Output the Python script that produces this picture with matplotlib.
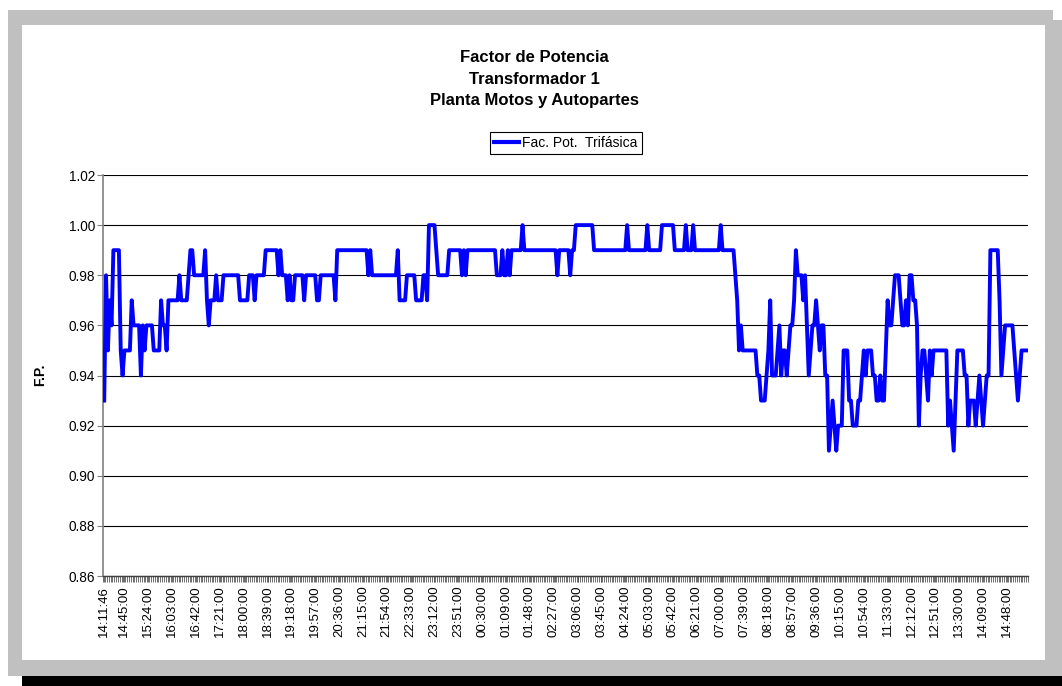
import matplotlib.pyplot as plt
import numpy as np
from matplotlib.patches import Rectangle
from matplotlib.lines import Line2D

plt.rcParams['font.family'] = ['Liberation Sans', 'DejaVu Sans']

# factor de potencia, (valor, numero de lecturas seguidas)
tramos = [
    (0.93, 1), (0.98, 1), (0.95, 1), (0.97, 1), (0.96, 1), (0.99, 4), (0.95, 1), (0.94, 1),
    (0.95, 4), (0.97, 1), (0.96, 4), (0.94, 1), (0.96, 1), (0.95, 1), (0.96, 4), (0.95, 4),
    (0.97, 1), (0.96, 2), (0.95, 1), (0.97, 6), (0.98, 1), (0.97, 4), (0.98, 1), (0.99, 2),
    (0.98, 6), (0.99, 1), (0.97, 1), (0.96, 1), (0.97, 3), (0.98, 1), (0.97, 3), (0.98, 9),
    (0.97, 5), (0.98, 3), (0.97, 1), (0.98, 5), (0.99, 7), (0.98, 1), (0.99, 1), (0.98, 3),
    (0.97, 1), (0.98, 1), (0.97, 2), (0.98, 5), (0.97, 1), (0.98, 6), (0.97, 2), (0.98, 8),
    (0.97, 1), (0.99, 17), (0.98, 1), (0.99, 1), (0.98, 14), (0.99, 1), (0.97, 4), (0.98, 5),
    (0.97, 4), (0.98, 2), (0.97, 1), (1.00, 4), (0.99, 1), (0.98, 6), (0.99, 7), (0.98, 1),
    (0.99, 1), (0.98, 1), (0.99, 16), (0.98, 3), (0.99, 1), (0.98, 2), (0.99, 1), (0.98, 1),
    (0.99, 6), (1.00, 1), (0.99, 18), (0.98, 1), (0.99, 6), (0.98, 1), (0.99, 2), (1.00, 10),
    (0.99, 18), (1.00, 1), (0.99, 10), (1.00, 1), (0.99, 7), (1.00, 7), (0.99, 6), (1.00, 1),
    (0.99, 3), (1.00, 1), (0.99, 14), (1.00, 1), (0.99, 7), (0.98, 1), (0.97, 1), (0.95, 1),
    (0.96, 1), (0.95, 8), (0.94, 2), (0.93, 3), (0.94, 1), (0.95, 1), (0.97, 1), (0.94, 3),
    (0.95, 1), (0.96, 1), (0.94, 1), (0.95, 2), (0.94, 1), (0.95, 1), (0.96, 2), (0.97, 1),
    (0.99, 1), (0.98, 3), (0.97, 1), (0.98, 1), (0.96, 1), (0.94, 1), (0.95, 1), (0.96, 2),
    (0.97, 1), (0.96, 1), (0.95, 1), (0.96, 2), (0.94, 2), (0.91, 1), (0.92, 1), (0.93, 1),
    (0.92, 1), (0.91, 1), (0.92, 3), (0.95, 3), (0.93, 2), (0.92, 3), (0.93, 2), (0.94, 1),
    (0.95, 1), (0.94, 1), (0.95, 3), (0.94, 2), (0.93, 2), (0.94, 1), (0.93, 2), (0.95, 1),
    (0.97, 1), (0.96, 2), (0.97, 1), (0.98, 3), (0.97, 1), (0.96, 2), (0.97, 1), (0.96, 1),
    (0.98, 2), (0.97, 2), (0.96, 1), (0.92, 1), (0.94, 1), (0.95, 2), (0.94, 1), (0.93, 1),
    (0.95, 1), (0.94, 1), (0.95, 8), (0.92, 1), (0.93, 1), (0.92, 1), (0.91, 1), (0.93, 1),
    (0.95, 4), (0.94, 2), (0.92, 1), (0.93, 3), (0.92, 1), (0.93, 1), (0.94, 1), (0.93, 1),
    (0.92, 1), (0.93, 1), (0.94, 2), (0.99, 5), (0.97, 1), (0.94, 1), (0.95, 1), (0.96, 5),
    (0.95, 1), (0.94, 1), (0.93, 1), (0.94, 1), (0.95, 4),
]

horas = ["14:11:46", "14:45:00", "15:24:00", "16:03:00", "16:42:00", "17:21:00", "18:00:00",
         "18:39:00", "19:18:00", "19:57:00", "20:36:00", "21:15:00", "21:54:00", "22:33:00",
         "23:12:00", "23:51:00", "00:30:00", "01:09:00", "01:48:00", "02:27:00", "03:06:00",
         "03:45:00", "04:24:00", "05:03:00", "05:42:00", "06:21:00", "07:00:00", "07:39:00",
         "08:18:00", "08:57:00", "09:36:00", "10:15:00", "10:54:00", "11:33:00", "12:12:00",
         "12:51:00", "13:30:00", "14:09:00", "14:48:00"]
# lectura a la que corresponde cada etiqueta
pos_horas = [0] + [11 + 13 * k for k in range(len(horas) - 1)]

fp = []
for v, n in tramos:
    fp += [v] * n
fp = np.array(fp)
x = np.arange(len(fp))

W, H = 1062, 686
fig = plt.figure(figsize=(W / 100, H / 100), dpi=100)
fig.patch.set_facecolor('white')

# marco gris tipo excel (coordenadas en pixeles)
bg = fig.add_axes([0, 0, 1, 1])
bg.set_xlim(0, W)
bg.set_ylim(H, 0)
bg.axis('off')
bg.add_patch(Rectangle((8, 10), 1045, 666, color='#c0c0c0', lw=0))
bg.add_patch(Rectangle((1053, 20), 9, 656, color='#c0c0c0', lw=0))
bg.add_patch(Rectangle((22, 676), 1040, 10, color='black', lw=0))
bg.add_patch(Rectangle((22, 25), 1023, 635, color='white', lw=0))

bg.text(534, 58, "Factor de Potencia", ha='center', va='center', fontsize=12, fontweight='bold')
bg.text(534, 80, "Transformador 1", ha='center', va='center', fontsize=12, fontweight='bold')
bg.text(534, 101, "Planta Motos y Autopartes", ha='center', va='center', fontsize=12, fontweight='bold')
bg.text(40, 375, "F.P.", ha='center', va='center', rotation=90, fontsize=10, fontweight='bold')

ax = fig.add_axes([103.3 / W, 1 - 576 / H, (1028 - 103.3) / W, (576 - 175) / H])
ax.plot(x, fp, color='#0000ff', lw=2.8, solid_joinstyle='round', zorder=3)

ax.set_xlim(-0.5, len(fp) - 0.5)
ax.set_ylim(0.86, 1.02)
ax.set_yticks(np.arange(0.86, 1.021, 0.02))
ax.set_yticklabels(["%.2f" % v for v in np.arange(0.86, 1.021, 0.02)], fontsize=9.8)
ax.set_xticks(pos_horas)
ax.set_xticklabels(horas, rotation=90, fontsize=9.5)
ax.set_xticks(np.arange(-0.5, len(fp), 1), minor=True)
ax.tick_params(axis='x', which='both', length=4, width=0.6, color='#555555', pad=3)
ax.tick_params(axis='y', length=4, width=0.8, color='#808080', pad=2)

ax.yaxis.grid(True, color='black', lw=0.8)
ax.set_axisbelow(True)
for s in ['top', 'right']:
    ax.spines[s].set_visible(False)
ax.spines['left'].set_color('#808080')
ax.spines['left'].set_linewidth(1.2)
ax.spines['bottom'].set_color('#404040')
ax.spines['bottom'].set_linewidth(1.0)

leg = fig.legend([Line2D([], [], color='#0000ff', lw=3)], ["Fac. Pot.  Trifásica"],
                 loc='center', bbox_to_anchor=(566 / W, 1 - 143 / H), fontsize=10,
                 fancybox=False, edgecolor='black', framealpha=1, borderpad=0.3,
                 handlelength=1.8, handletextpad=0.2, borderaxespad=0)
leg.get_frame().set_linewidth(0.8)

plt.savefig("out.png", dpi=100)
